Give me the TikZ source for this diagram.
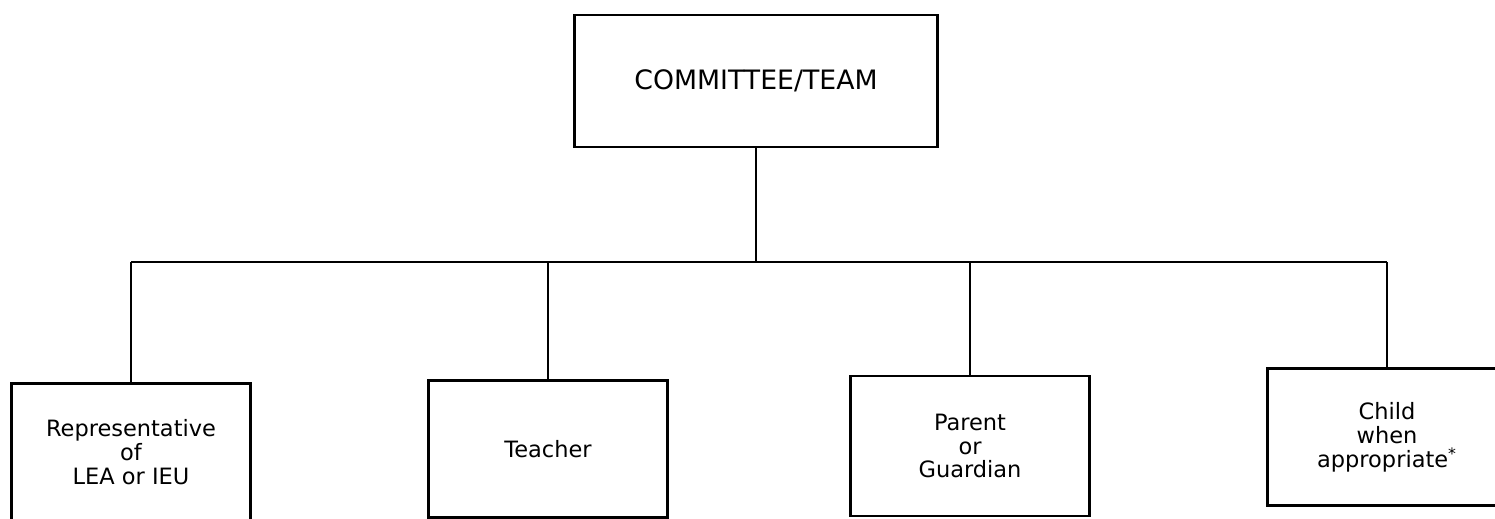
\documentclass[tikz,border=0pt]{standalone}
\usepackage{fontspec}
\setmainfont{DejaVu Sans}
\usetikzlibrary{positioning}

\tikzset{
  member/.style={draw, line width=1.6pt, inner sep=0pt, align=center,
    minimum width=4.78cm, minimum height=2.74cm,
    font=\fontsize{12.8}{13.6}\selectfont},
  link/.style={line width=1.6pt}
}

\begin{document}
\begin{tikzpicture}[x=0.02cm, y=-0.02cm]
\useasboundingbox (0,0) rectangle (1495,519);

% top of the chart
\node[draw, line width=1.6pt, minimum width=7.26cm, minimum height=2.64cm,
  font=\fontsize{15.2}{16}\selectfont] (team) at (756,81) {COMMITTEE/TEAM};

% members (the outer two run past the page edge)
\node[member] (rep) at (131,452) {Representative\\of\\LEA or IEU};
\node[member] (teacher) at (548,449) {Teacher};
\node[member, minimum height=2.8cm] (parent) at (970,446) {Parent\\or\\Guardian};
\node[member] (child) at (1387,437) {Child\\when\\appropriate\textsuperscript{*}};

\coordinate (bus) at (756,262);

\draw[link] (team.south) -- (bus);
\draw[link] (rep.north |- bus) -- (child.north |- bus);
\foreach \m in {rep,teacher,parent,child}
  \draw[link] (\m.north) -- (\m.north |- bus);
\end{tikzpicture}
\end{document}
